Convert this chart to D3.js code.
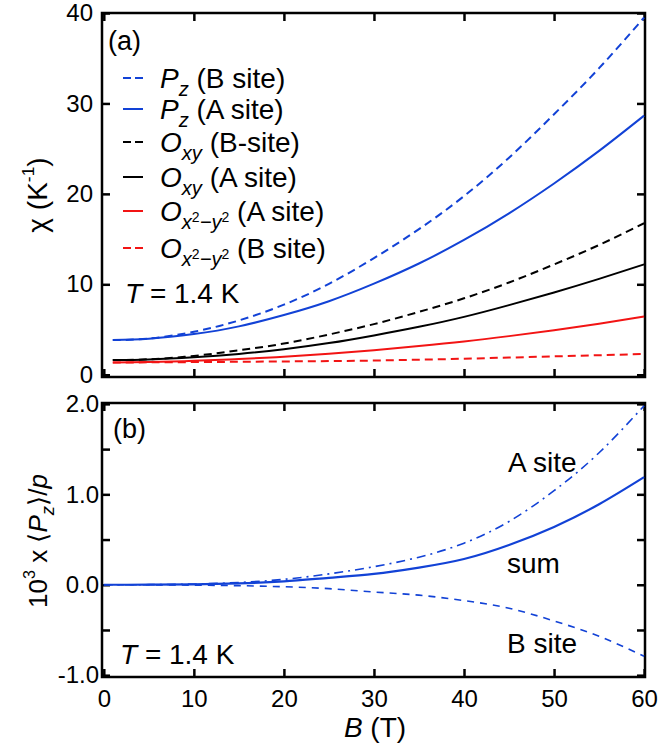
<!DOCTYPE html>
<html>
<head>
<meta charset="utf-8">
<script src="https://cdn.jsdelivr.net/npm/d3@7"></script>
<style>
  body { margin: 0; background: #fff; }
  text { font-family: "Liberation Sans", Arial, sans-serif; fill: #000; }
</style>
</head>
<body>
<div id="chart"></div>
<script>
// panel (a): susceptibilities vs field
const fieldA = [1, 5, 10, 15, 20, 25, 30, 35, 40, 45, 50, 55, 60];
const pzB  = [3.83, 4.0, 4.75, 6.0, 7.75, 10.05, 12.9, 16.1, 19.75, 24.0, 28.8, 33.9, 39.5];
const pzA  = [3.83, 3.98, 4.5, 5.35, 6.6, 8.13, 10.07, 12.3, 14.9, 17.85, 21.15, 24.75, 28.65];
const oxyB = [1.62, 1.71, 2.08, 2.7, 3.45, 4.45, 5.6, 6.95, 8.45, 10.2, 12.2, 14.35, 16.75];
const oxyA = [1.62, 1.69, 1.93, 2.3, 2.82, 3.5, 4.35, 5.3, 6.4, 7.7, 9.1, 10.6, 12.2];
const ox2A = [1.36, 1.4, 1.54, 1.73, 1.98, 2.32, 2.72, 3.17, 3.67, 4.27, 4.93, 5.65, 6.43];
const ox2B = [1.36, 1.37, 1.4, 1.43, 1.47, 1.51, 1.57, 1.66, 1.77, 1.9, 2.03, 2.16, 2.29];

// panel (b): induced <Pz>/p
const fieldB = [0, 5, 10, 15, 20, 25, 30, 35, 40, 45, 50, 55, 60];
const siteA = [0, 0.001, 0.008, 0.025, 0.06, 0.12, 0.2, 0.305, 0.46, 0.7, 1.04, 1.46, 1.98];
const siteB = [0, -0.0005, -0.004, -0.01, -0.022, -0.043, -0.08, -0.115, -0.175, -0.26, -0.4, -0.57, -0.79];
const siteSum = [0, 0.0005, 0.004, 0.015, 0.038, 0.077, 0.12, 0.19, 0.285, 0.44, 0.64, 0.89, 1.19];

const xTicks = [0, 10, 20, 30, 40, 50, 60];
const yTicksA = [0, 10, 20, 30, 40];
const yTicksB = [-1, 0, 1, 2];
const yMinorB = [-0.5, 0.5, 1.5];

const blue = "#1242d6", red = "#f21414";

// legend rows of panel (a)
const legendA = [
  { y: pzB,  color: blue,   dash: "8,5", label: [["P", "i"], ["z", "si"], [" (B site)"]] },
  { y: pzA,  color: blue,   dash: null,  label: [["P", "i"], ["z", "si"], [" (A site)"]] },
  { y: oxyB, color: "#000", dash: "8,5", label: [["O", "i"], ["xy", "si"], [" (B-site)"]] },
  { y: oxyA, color: "#000", dash: null,  label: [["O", "i"], ["xy", "si"], [" (A site)"]] },
  { y: ox2A, color: red,    dash: null,  label: [["O", "i"], ["x", "si"], ["2", "ss"], ["\u2212y", "si"], ["2", "ss"], [" (A site)"]] },
  { y: ox2B, color: red,    dash: "8,5", label: [["O", "i"], ["x", "si"], ["2", "ss"], ["\u2212y", "si"], ["2", "ss"], [" (B site)"]] }
];
const legendRowY = [78, 109, 142, 177, 211, 248];

const width = 659, height = 752;
const svg = d3.select("#chart").append("svg")
  .attr("width", width)
  .attr("height", height);

const x = d3.scaleLinear().domain([-0.2, 60.1]).range([102, 645]);
const yA = d3.scaleLinear().domain([-0.25, 40]).range([377, 13]);
const yB = d3.scaleLinear().domain([-1.02, 2.01]).range([677, 403]);

// rich text: parts are [text, style] with i = italic, si = italic subscript, ss = sub-superscript
function rich(sel, parts, size) {
  let shift = 0;
  parts.forEach(p => {
    const st = p[1] || "";
    let target = 0, fs = size;
    if (st === "si") { target = 0.28 * size; fs = size * 0.72; }
    if (st === "ss") { target = 0.02 * size; fs = size * 0.5; }
    if (st === "sup") { target = -0.45 * size; fs = size * 0.62; }
    sel.append("tspan")
      .attr("dy", target - shift)
      .attr("font-size", fs)
      .attr("font-style", st.indexOf("i") >= 0 ? "italic" : null)
      .text(p[0]);
    shift = target;
  });
  return sel;
}

function frame(y, yTicks, yMinor, fmt, showX, pad) {
  const g = svg.append("g");
  const yh = y.range();
  const tk = 8;
  g.append("g").attr("transform", `translate(0,${yh[0]})`)
    .call(d3.axisBottom(x).tickValues(xTicks).tickSizeInner(-tk).tickSizeOuter(0)
      .tickPadding(13).tickFormat(showX ? d3.format("d") : ""));
  g.append("g").attr("transform", `translate(0,${yh[1]})`)
    .call(d3.axisTop(x).tickValues(xTicks).tickSizeInner(-tk).tickSizeOuter(0).tickFormat(""));
  g.append("g").attr("transform", `translate(${x.range()[0]},0)`)
    .call(d3.axisLeft(y).tickValues(yTicks).tickSizeInner(-tk).tickSizeOuter(0)
      .tickPadding(pad).tickFormat(fmt));
  g.append("g").attr("transform", `translate(${x.range()[1]},0)`)
    .call(d3.axisRight(y).tickValues(yTicks).tickSizeInner(-tk).tickSizeOuter(0).tickFormat(""));
  if (yMinor) {
    g.append("g").attr("transform", `translate(${x.range()[0]},0)`)
      .call(d3.axisLeft(y).tickValues(yMinor).tickSizeInner(-tk).tickSizeOuter(0).tickFormat(""));
    g.append("g").attr("transform", `translate(${x.range()[1]},0)`)
      .call(d3.axisRight(y).tickValues(yMinor).tickSizeInner(-tk).tickSizeOuter(0).tickFormat(""));
  }
  g.selectAll(".domain").remove();
  g.selectAll(".tick line").attr("stroke", "#000").attr("stroke-width", 2.5);
  g.selectAll(".tick text").attr("font-size", 24).attr("fill", "#000")
    .style("font-family", '"Liberation Sans", Arial, sans-serif');
  g.append("rect")
    .attr("x", x.range()[0]).attr("y", yh[1])
    .attr("width", x.range()[1] - x.range()[0]).attr("height", yh[0] - yh[1])
    .attr("fill", "none").attr("stroke", "#000").attr("stroke-width", 2.5);
  return g;
}

// ---- panel (a)
frame(yA, yTicksA, null, d3.format("d"), false, 9);

legendA.forEach(s => {
  const line = d3.line().x((d, i) => x(fieldA[i])).y(d => yA(d)).curve(d3.curveNatural);
  svg.append("path").datum(s.y)
    .attr("d", line)
    .attr("fill", "none")
    .attr("stroke", s.color)
    .attr("stroke-width", 2)
    .attr("stroke-dasharray", s.dash);
});

legendA.forEach((s, i) => {
  const ly = legendRowY[i];
  svg.append("line")
    .attr("x1", 123).attr("x2", 143).attr("y1", ly).attr("y2", ly)
    .attr("stroke", s.color).attr("stroke-width", 2)
    .attr("stroke-dasharray", s.dash ? "8,4" : null);
  rich(svg.append("text").attr("x", 160).attr("y", ly + 10).attr("font-size", 28), s.label, 28);
});

svg.append("text").attr("x", 108).attr("y", 50).attr("font-size", 27).text("(a)");
rich(svg.append("text").attr("x", 125).attr("y", 303).attr("font-size", 28),
  [["T", "i"], [" = 1.4 K"]], 28);

rich(svg.append("text")
  .attr("transform", "translate(47,195) rotate(-90)")
  .attr("text-anchor", "middle").attr("font-size", 28),
  [["\u03c7 (K"], ["-1", "sup"], [")"]], 28);

// ---- panel (b)
frame(yB, yTicksB, yMinorB, d => d.toFixed(1), true, 3);

const seriesB = [
  { y: siteA,   dash: "9,5,2,5", w: 1.6 },
  { y: siteSum, dash: null,      w: 2.2 },
  { y: siteB,   dash: "7,6",     w: 1.6 }
];
seriesB.forEach(s => {
  const line = d3.line().x((d, i) => x(fieldB[i])).y(d => yB(d)).curve(d3.curveNatural);
  svg.append("path").datum(s.y)
    .attr("d", line)
    .attr("fill", "none")
    .attr("stroke", blue)
    .attr("stroke-width", s.w)
    .attr("stroke-dasharray", s.dash);
});

svg.append("text").attr("x", 113).attr("y", 438).attr("font-size", 27).text("(b)");
rich(svg.append("text").attr("x", 120).attr("y", 664).attr("font-size", 28),
  [["T", "i"], [" = 1.4 K"]], 28);
svg.append("text").attr("x", 508).attr("y", 472).attr("font-size", 28).text("A site");
svg.append("text").attr("x", 507).attr("y", 573).attr("font-size", 28).text("sum");
svg.append("text").attr("x", 507).attr("y", 653).attr("font-size", 28).text("B site");

rich(svg.append("text")
  .attr("transform", "translate(47,541) rotate(-90)")
  .attr("text-anchor", "middle").attr("font-size", 26),
  [["10"], ["3", "sup"], [" x \u27e8"], ["P", "i"], ["z", "si"], ["\u27e9/"], ["p", "i"]], 26);

rich(svg.append("text")
  .attr("x", 375).attr("y", 737)
  .attr("text-anchor", "middle").attr("font-size", 28),
  [["B", "i"], [" (T)"]], 28);
</script>
</body>
</html>
